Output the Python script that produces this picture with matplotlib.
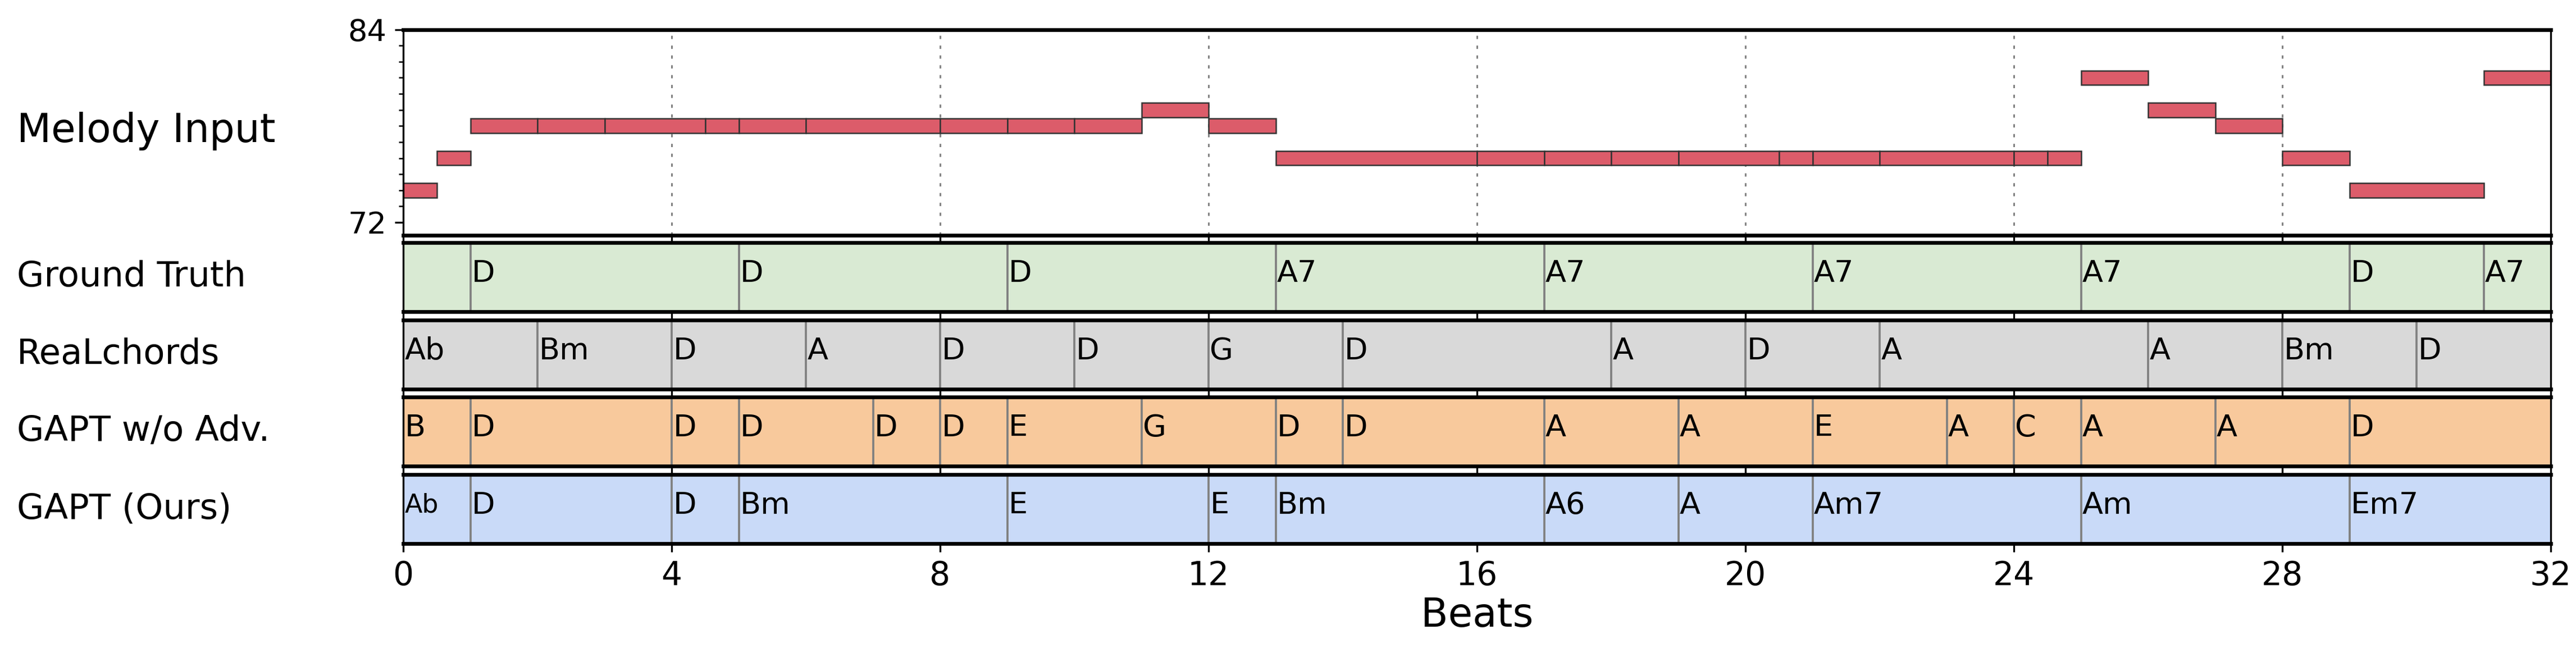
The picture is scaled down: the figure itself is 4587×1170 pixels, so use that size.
import matplotlib.pyplot as plt

# melody: (start beat, duration, midi pitch)
note_start = [0, 0.5, 1, 2, 3, 4.5, 5, 6, 8, 9, 10, 11, 12, 13, 16, 17, 18, 19, 20.5, 21, 22, 24, 24.5,
              25, 26, 27, 28, 29, 31]
note_dur = [0.5, 0.5, 1, 1, 1.5, 0.5, 1, 2, 1, 1, 1, 1, 1, 3, 1, 1, 1, 1.5, 0.5, 1, 2, 0.5, 0.5,
            1, 1, 1, 1, 2, 1]
note_pitch = [74, 76, 78, 78, 78, 78, 78, 78, 78, 78, 78, 79, 78, 76, 76, 76, 76, 76, 76, 76, 76, 76, 76,
              81, 79, 78, 76, 74, 81]

row_names = ["Ground Truth", "ReaLchords", "GAPT w/o Adv.", "GAPT (Ours)"]
row_colors = ["#d9ead3", "#d9d9d9", "#f8c99c", "#c9daf8"]
gt_starts = [0, 1, 5, 9, 13, 17, 21, 25, 29, 31]
gt_chords = ["", "D", "D", "D", "A7", "A7", "A7", "A7", "D", "A7"]
rc_starts = [0, 2, 4, 6, 8, 10, 12, 14, 18, 20, 22, 26, 28, 30]
rc_chords = ["Ab", "Bm", "D", "A", "D", "D", "G", "D", "A", "D", "A", "A", "Bm", "D"]
na_starts = [0, 1, 4, 5, 7, 8, 9, 11, 13, 14, 17, 19, 21, 23, 24, 25, 27, 29]
na_chords = ["B", "D", "D", "D", "D", "D", "E", "G", "D", "D", "A", "A", "E", "A", "C", "A", "A", "D"]
gp_starts = [0, 1, 4, 5, 9, 12, 13, 17, 19, 21, 25, 29]
gp_chords = ["Ab", "D", "D", "Bm", "E", "E", "Bm", "A6", "A", "Am7", "Am", "Em7"]
all_starts = [gt_starts, rc_starts, na_starts, gp_starts]
all_chords = [gt_chords, rc_chords, na_chords, gp_chords]

total_beats = 32
xticks = list(range(0, 33, 4))

fig = plt.figure(figsize=(15.293, 3.9), dpi=300)
left, width = 0.1565, 0.8335


def style_x(ax):
    ax.set_xlim(0, total_beats)
    ax.set_xticks(xticks)
    for x in xticks[1:-1]:
        ax.axvline(x, color="gray", lw=0.7, ls=(0, (2, 4)), zorder=0.5)
    ax.spines["top"].set_linewidth(1.6)
    ax.spines["bottom"].set_linewidth(1.6)
    ax.spines["left"].set_linewidth(0.8)
    ax.spines["right"].set_linewidth(0.8)


# melody
ax_m = fig.add_axes([left, 0.642, width, 0.313])
ax_m.bar(note_start, 0.9, width=note_dur, bottom=[p - 0.45 for p in note_pitch], align="edge",
         color="#dc5c6a", edgecolor="#333333", linewidth=0.6, zorder=2)
ax_m.set_ylim(71.2, 84)
ax_m.set_yticks([72, 84])
ax_m.set_yticks(range(73, 84), minor=True)
ax_m.tick_params(axis="y", labelsize=13)
ax_m.tick_params(axis="x", labelbottom=False)
style_x(ax_m)
fig.text(0.0065, 0.80, "Melody Input", fontsize=17, va="center", ha="left")

bottoms = [0.526, 0.408, 0.291, 0.173]
for i in range(4):
    ax = fig.add_axes([left, bottoms[i], width, 0.105])
    starts = all_starts[i]
    ends = starts[1:] + [total_beats]
    ax.barh(0.5, [e - s for s, e in zip(starts, ends)], left=starts, height=1,
            color=row_colors[i], edgecolor="none", zorder=1)
    for s, lab in zip(starts, all_chords[i]):
        if s > 0:
            ax.axvline(s, color="gray", lw=0.9, zorder=2)
        fs = 11 if (lab == "Ab" and i == 3) else 13
        ax.text(s + 0.02, 0.55, lab, fontsize=fs, va="center", ha="left", zorder=3)
    ax.set_ylim(0, 1)
    ax.set_yticks([])
    style_x(ax)
    if i < 3:
        ax.tick_params(axis="x", labelbottom=False)
    else:
        ax.tick_params(axis="x", labelsize=14)
        ax.set_xlabel("Beats", fontsize=17, labelpad=2)
    fig.text(0.0065, bottoms[i] + 0.0525, row_names[i], fontsize=15, va="center", ha="left")

fig.savefig("out.png", dpi=300)
